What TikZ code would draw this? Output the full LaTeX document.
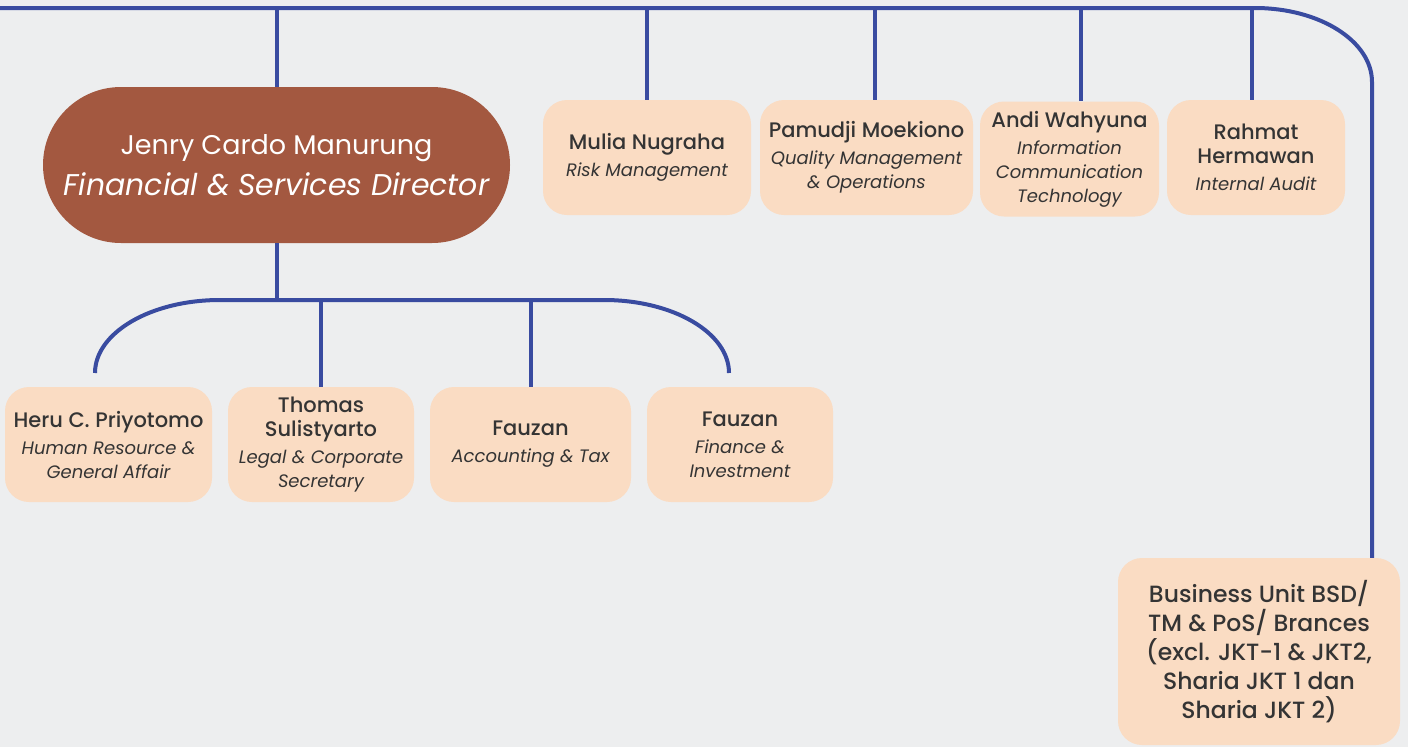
\documentclass[tikz,border=0pt]{standalone}
\usepackage{fontspec}
\setmainfont{Poppins}[BoldFont={Poppins Medium},ItalicFont={Poppins Italic},BoldItalicFont={Poppins Medium Italic}]
\definecolor{bgc}{RGB}{237,238,239}
\definecolor{linkc}{RGB}{57,75,160}
\definecolor{peach}{RGB}{250,220,195}
\definecolor{brick}{RGB}{163,88,64}
\definecolor{ink}{RGB}{52,52,52}
\newcommand\nm[1]{{\fontsize{21}{24}\selectfont\bfseries #1}}
\newcommand\rl[1]{{\itshape #1}}
\tikzset{
  link/.style={draw=linkc,line width=4pt},
  unit/.style={fill=peach,rounded corners=24pt,inner sep=0pt,align=center,
    text=ink,font=\fontsize{18}{24}\selectfont},
  chief/.style={fill=brick,rounded corners=78pt,inner sep=0pt,align=center,
    text=white,minimum width=467pt,minimum height=156pt},
}
\begin{document}
\begin{tikzpicture}[x=1pt,y=-1pt]
\fill[bgc] (0,0) rectangle (1408,747);
\useasboundingbox (0,0) rectangle (1408,747);

% director
\node[chief] (dir) at (276.5,165)
  {{\fontsize{27}{30}\selectfont Jenry Cardo Manurung}\\[10pt]
   {\fontsize{30}{32}\selectfont\itshape Financial \& Services Director}};

% units reporting on the top bar
\node[unit,minimum width=208pt,minimum height=115pt] (mul) at (647,157.5)
  {\nm{Mulia Nugraha}\\[3pt]\rl{Risk Management}};
\node[unit,minimum width=213pt,minimum height=115pt] (pam) at (866.5,157.5)
  {\nm{Pamudji Moekiono}\\[3pt]\rl{Quality Management}\\\rl{\& Operations}};
\node[unit,minimum width=179pt,minimum height=115pt] (and) at (1069.5,159)
  {\nm{Andi Wahyuna}\\[3pt]\rl{Information}\\\rl{Communication}\\\rl{Technology}};
\node[unit,minimum width=178pt,minimum height=115pt] (rah) at (1256,157.5)
  {\nm{Rahmat}\\\nm{Hermawan}\\[3pt]\rl{Internal Audit}};

% units under the director
\node[unit,minimum width=207pt,minimum height=115pt] (her) at (108.5,444.5)
  {\nm{Heru C. Priyotomo}\\[3pt]\rl{Human Resource \&}\\\rl{General Affair}};
\node[unit,minimum width=186pt,minimum height=115pt] (tho) at (321,444.5)
  {\nm{Thomas}\\\nm{Sulistyarto}\\[3pt]\rl{Legal \& Corporate}\\\rl{Secretary}};
\node[unit,minimum width=201pt,minimum height=115pt] (fa1) at (530.5,444.5)
  {\nm{Fauzan}\\[3pt]\rl{Accounting \& Tax}};
\node[unit,minimum width=186pt,minimum height=115pt] (fa2) at (740,444.5)
  {\nm{Fauzan}\\[3pt]\rl{Finance \&}\\\rl{Investment}};

% business unit
\node[unit,minimum width=282pt,minimum height=187pt,
  font=\fontsize{23.5}{29}\selectfont\bfseries] (biz) at (1259,651.5)
  {Business Unit BSD/\\TM \& PoS/ Brances\\(excl. JKT-1 \& JKT2,\\Sharia JKT 1 dan\\Sharia JKT 2)};

% top bar
\coordinate (barL) at (0,8);
\coordinate (barR) at (1255,8);
\draw[link] (barL) -- (barR)
  arc[start angle=270,end angle=360,x radius=117,y radius=74] coordinate (bend)
  -- (bend |- biz.north);

\coordinate (tP) at (875,8);
\coordinate (tA) at (1081,8);
\coordinate (tR) at (1252,8);
\draw[link] (dir.north) -- (dir.north |- barL);
\draw[link] (mul.north) -- (mul.north |- barL);
\draw[link] (tP) -- (tP |- pam.north);
\draw[link] (tA) -- (tA |- and.north);
\draw[link] (tR) -- (tR |- rah.north);

% bracket under the director
\coordinate (hl) at (95,373);
\coordinate (hbar) at (412,300);
\draw[link] (hl) arc[start angle=180,end angle=270,x radius=125,y radius=73]
  -- ++(384,0) arc[start angle=270,end angle=360,x radius=125,y radius=73];
\draw[link] (dir.south) -- (dir.south |- hbar);
\draw[link] (tho.north) -- (tho.north |- hbar);
\draw[link] (fa1.north) -- (fa1.north |- hbar);
\end{tikzpicture}
\end{document}
